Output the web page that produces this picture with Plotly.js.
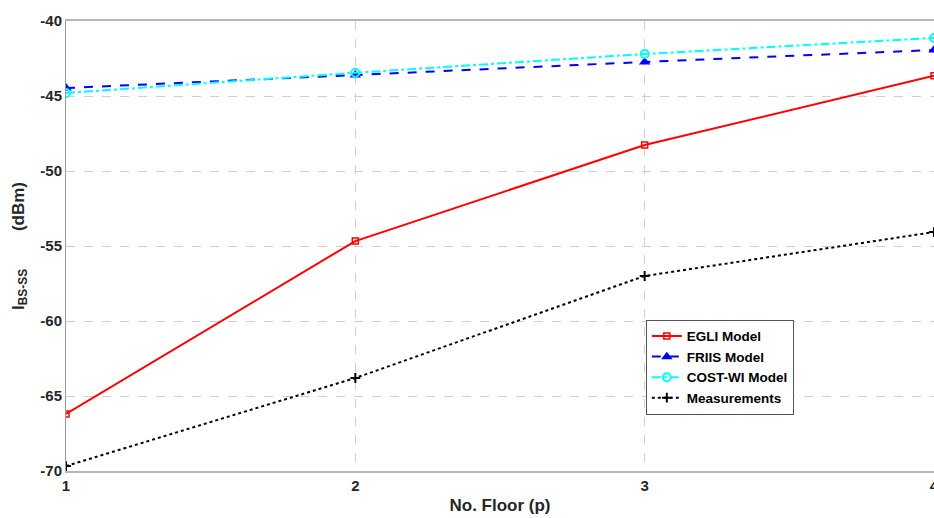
<!DOCTYPE html>
<html>
<head>
<meta charset="utf-8">
<script src="https://cdn.plot.ly/plotly-3.0.1.min.js"></script>
<style>html,body{margin:0;padding:0;background:#fff;}#chart{width:934px;height:518px;}</style>
</head>
<body>
<div id="chart"></div>
<script>
const floors = [1, 2, 3, 4];
const egli = [-66.2, -54.67, -48.27, -43.65];
const friis = [-44.47, -43.6, -42.73, -41.93];
const costWI = [-44.8, -43.45, -42.2, -41.13];
const measurements = [-69.67, -63.8, -57.0, -54.07];
const seriesNames = ["EGLI Model", "FRIIS Model", "COST-WI Model", "Measurements"];
const xTickVals = [1, 2, 3, 4];
const xTickText = ["1", "2", "3", "4"];
const yTickVals = [-70, -65, -60, -55, -50, -45, -40];
const yTickText = ["-70", "-65", "-60", "-55", "-50", "-45", "-40"];

const traces = [
  {x: floors, y: egli, name: seriesNames[0], mode: "lines+markers",
   line: {color: "#ff0000", width: 2, dash: "solid"},
   marker: {symbol: "square-open", size: 6, color: "#ff0000", line: {width: 1.5}}},
  {x: floors, y: friis, name: seriesNames[1], mode: "lines+markers",
   line: {color: "#0000ff", width: 2, dash: "dash"},
   marker: {symbol: "triangle-up", size: 10, color: "#0000ff"}},
  {x: floors, y: costWI, name: seriesNames[2], mode: "lines+markers",
   line: {color: "#00ffff", width: 2, dash: "dashdot"},
   marker: {symbol: "circle-open", size: 8, color: "#00ffff", line: {width: 2}}},
  {x: floors, y: measurements, name: seriesNames[3], mode: "lines+markers",
   line: {color: "#000000", width: 2, dash: "dot"},
   marker: {symbol: "cross-thin-open", size: 7, color: "#000000", line: {width: 2, color: "#000000"}}}
];

const nb = "\u00A0";
const layout = {
  width: 934, height: 518,
  margin: {l: 66, r: 0, t: 21, b: 47, pad: 0},
  paper_bgcolor: "#ffffff", plot_bgcolor: "#ffffff",
  font: {family: "Liberation Sans, Arial, sans-serif", size: 15, color: "#262626", weight: "bold"},
  showlegend: true,
  legend: {
    x: 0.668, y: 0.336, xanchor: "left", yanchor: "top",
    bgcolor: "#ffffff", bordercolor: "#555555", borderwidth: 1,
    font: {size: 13.5, color: "#000000", weight: "bold"},
    itemwidth: 30, tracegroupgap: 0
  },
  xaxis: {
    range: [1, 4], tickmode: "array", tickvals: xTickVals, ticktext: xTickText,
    ticklabeloverflow: "allow",
    showgrid: true, gridcolor: "#d0d0d0", griddash: "dash", gridwidth: 1,
    zeroline: false, showline: true, linecolor: "#b5b5b5", linewidth: 2, mirror: true,
    ticks: "", tickfont: {size: 15, weight: "bold", color: "#262626"},
    title: {text: "No. Floor (p)", font: {size: 17, weight: "bold", color: "#262626"}, standoff: 6}
  },
  yaxis: {
    range: [-70, -40], tickmode: "array", tickvals: yTickVals, ticktext: yTickText,
    showgrid: true, gridcolor: "#d0d0d0", griddash: "dash", gridwidth: 1,
    zeroline: false, showline: true, linecolor: "#999999", linewidth: 1, mirror: false,
    ticks: "", tickfont: {size: 15, weight: "bold", color: "#262626"},
    title: {text: nb.repeat(6) + "I<sub>BS-SS</sub>" + nb.repeat(8) + "(dBm)", font: {size: 17, weight: "bold", color: "#262626"}, standoff: 11}
  }
};

Plotly.newPlot("chart", traces, layout, {displayModeBar: false, staticPlot: true});
</script>
</body>
</html>
